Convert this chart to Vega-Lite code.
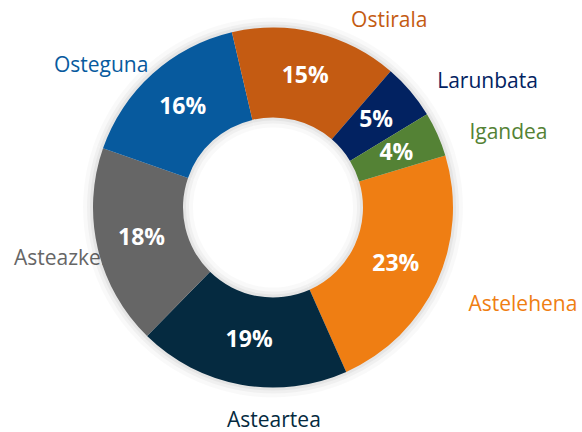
{
  "$schema": "https://vega.github.io/schema/vega-lite/v6.json",
  "width": 546,
  "height": 415,
  "autosize": {"type": "none"},
  "padding": {"left": 0, "top": 0, "right": 36, "bottom": 17},
  "background": "white",
  "view": {"stroke": null},
  "data": {
    "values": [
      {"eguna": "Astelehena", "ehunekoa": 0.23, "ordena": 1},
      {"eguna": "Asteartea", "ehunekoa": 0.19, "ordena": 2},
      {"eguna": "Asteazkena", "ehunekoa": 0.18, "ordena": 3},
      {"eguna": "Osteguna", "ehunekoa": 0.16, "ordena": 4},
      {"eguna": "Ostirala", "ehunekoa": 0.15, "ordena": 5},
      {"eguna": "Larunbata", "ehunekoa": 0.05, "ordena": 6},
      {"eguna": "Igandea", "ehunekoa": 0.04, "ordena": 7}
    ]
  },
  "encoding": {
    "theta": {
      "field": "ehunekoa",
      "type": "quantitative",
      "stack": true,
      "scale": {"domain": [0, 1], "range": [1.2776, 7.5608]}
    },
    "order": {"field": "ordena", "type": "quantitative"},
    "color": {
      "field": "eguna",
      "type": "nominal",
      "scale": {
        "domain": ["Astelehena", "Asteartea", "Asteazkena", "Osteguna", "Ostirala", "Larunbata", "Igandea"],
        "range": ["#EF7E13", "#052A40", "#666666", "#075A9E", "#C45B12", "#022261", "#548235"]
      },
      "legend": null
    }
  },
  "layer": [
    {
      "mark": {
        "type": "text",
        "radius": 215,
        "fontSize": 21,
        "font": "Open Sans",
        "baseline": "middle",
        "align": {"expr": "datum.eguna == 'Astelehena' || datum.eguna == 'Larunbata' || datum.eguna == 'Igandea' ? 'left' : 'center'"},
        "dx": {"expr": "datum.eguna == 'Ostirala' ? 65 : datum.eguna == 'Asteartea' ? 39 : datum.eguna == 'Osteguna' ? -28 : datum.eguna == 'Asteazkena' ? 6 : 0"},
        "dy": {"expr": "datum.eguna == 'Ostirala' ? 22 : datum.eguna == 'Asteartea' ? 2 : datum.eguna == 'Osteguna' ? 18 : datum.eguna == 'Asteazkena' ? 2 : datum.eguna == 'Astelehena' ? 8 : 13"}
      },
      "encoding": {"text": {"field": "eguna", "type": "nominal"}}
    },
    {
      "mark": {"type": "arc", "outerRadius": 190, "innerRadius": 80, "opacity": 0.025},
      "encoding": {"color": {"value": "#000000"}, "detail": {"field": "eguna", "type": "nominal"}}
    },
    {
      "mark": {"type": "arc", "outerRadius": 186, "innerRadius": 84, "opacity": 0.035},
      "encoding": {"color": {"value": "#000000"}, "detail": {"field": "eguna", "type": "nominal"}}
    },
    {
      "mark": {"type": "arc", "outerRadius": 183, "innerRadius": 87, "opacity": 0.045},
      "encoding": {"color": {"value": "#000000"}, "detail": {"field": "eguna", "type": "nominal"}}
    },
    {
      "mark": {"type": "arc", "outerRadius": 180, "innerRadius": 90}
    },
    {
      "mark": {
        "type": "text",
        "radius": 135,
        "fontSize": 23,
        "fontWeight": "bold",
        "font": "Open Sans",
        "baseline": "middle",
        "align": "center"
      },
      "encoding": {
        "text": {"field": "ehunekoa", "type": "quantitative", "format": ".0%"},
        "color": {"value": "white"},
        "detail": {"field": "eguna", "type": "nominal"}
      }
    }
  ]
}
